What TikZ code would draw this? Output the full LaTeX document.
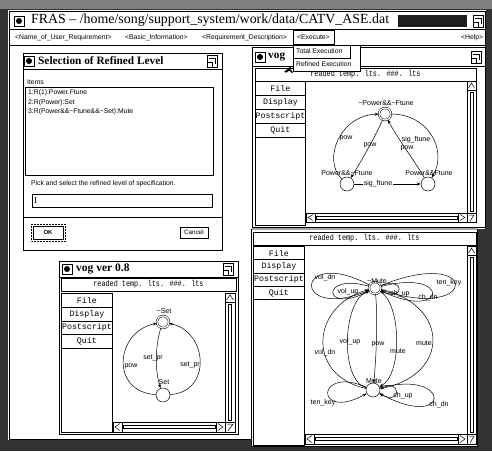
\documentclass[tikz,border=0pt]{standalone}
\usepackage{fontspec}
\usepackage{graphicx}
\setmainfont{Liberation Serif}
\newfontfamily\monof{Liberation Mono}
\newfontfamily\sansf{Liberation Sans}
\usetikzlibrary{arrows.meta}

\newcommand\rdicon[2]{\draw[line width=0.8pt,fill=white] (#1-5,#2-5) rectangle (#1+5,#2+5); \fill (#1,#2) circle (3pt);}
\newcommand\pnicon[2]{\draw[line width=0.8pt,fill=white] (#1-5,#2-6) rectangle (#1+5,#2+6);
  \draw[line width=0.6pt] (#1-5,#2+1) -- (#1,#2+1) -- (#1,#2+6);
  \draw[line width=0.6pt] (#1-3,#2-3) -- (#1+3,#2-3) -- (#1+3,#2+3);}
\newcommand\vsbar[4]{\draw[line width=0.6pt,fill=white] (#1,#2) rectangle (#3,#4);
  \draw[line width=0.6pt] (#1,#2+9) -- (#3,#2+9);
  \draw[line width=0.5pt] (#1+1.5,#2+7) -- ({(#1+#3)/2},#2+2) -- (#3-1.5,#2+7);
  \draw[line width=0.5pt] ({(#1+#3)/2-1.6},#2+11) rectangle ({(#1+#3)/2+1.6},#4-2);}
\newcommand\hsbar[4]{\draw[line width=0.6pt,fill=white] (#1,#2) rectangle (#3,#4);
  \draw[line width=0.6pt] (#1+9,#2) -- (#1+9,#4);
  \draw[line width=0.6pt] (#3-9,#2) -- (#3-9,#4);
  \draw[line width=0.5pt] (#1+7,#2+1.5) -- (#1+2,{(#2+#4)/2}) -- (#1+7,#4-1.5);
  \draw[line width=0.5pt] (#3-7,#2+1.5) -- (#3-2,{(#2+#4)/2}) -- (#3-7,#4-1.5);
  \draw[line width=0.5pt] (#1+10,{(#2+#4)/2-1.6}) rectangle (#3-10,{(#2+#4)/2+1.6});}
\newcommand\crnr[4]{\draw[line width=0.6pt,fill=white] (#1,#2) rectangle (#3,#4);
  \draw[line width=0.5pt] (#1+2,#2+2) -- (#3-2,#2+2) -- (#1+3,#4-1);}
\newcommand\btncol[5]{% prefix x1 y1 width height (unitless)
  \foreach \t [count=\i from 0] in {File,Display,Postscript,Quit}{
    \node[btn, minimum width=#4pt, minimum height=#5pt] (#1\i) at (#2,{#3+\i*#5}) {\t};}}

\begin{document}
\begin{tikzpicture}[x=1pt,y=-1pt,
  lbl/.style={font=\sansf\fontsize{7}{8}\selectfont, inner sep=0.5pt},
  mn/.style={anchor=west, font=\sansf\fontsize{6.8}{7.5}\selectfont, inner sep=0pt},
  dl/.style={anchor=west, font=\sansf\fontsize{6.8}{7.5}\selectfont, inner sep=0pt},
  wt/.style={anchor=west, font=\bfseries\fontsize{11.3}{13}\selectfont, inner sep=0pt},
  stt/.style={font=\monof\fontsize{8.5}{9}\selectfont, inner sep=0pt},
  btn/.style={draw, line width=0.9pt, anchor=north west, inner sep=0pt, font=\monof\fontsize{8.3}{9}\selectfont},
  st/.style={circle, draw, line width=0.5pt, minimum size=14pt, inner sep=0pt},
  dst/.style={circle, draw, line width=0.5pt, double, double distance=1.2pt, minimum size=12pt, inner sep=0pt},
  ed/.style={-{Stealth[length=4pt,width=3pt]}, line width=0.5pt},
  win/.style={draw, line width=1pt, fill=white}]
\useasboundingbox (0,0) rectangle (492,451);
% screen background
\fill[black!80] (0,0) rectangle (492,451);
\fill[black!50] (0,0) rectangle (492,9);
\fill[white] (8,10) rectangle (486,440);
\fill[black!80] (478,229) rectangle (492,451);
\draw[line width=0.8pt] (9,11) -- (485,11) -- (485,229);
\draw[line width=0.8pt] (9,11) -- (9,439) -- (251,439);
% title bar
\draw[line width=0.6pt] (9,29) -- (485,29);
\draw[line width=0.6pt] (9,45) -- (485,45);
\rdicon{19}{21}
\node[anchor=west, font=\fontsize{13.9}{16}\selectfont, inner sep=0pt] (ttl) at (31,20.5) {FRAS – /home/song/support\_system/work/data/CATV\_ASE.dat};
\fill[black!88] (398,15) rectangle (467,27);
\pnicon{478}{21}
% menu bar
\node[mn] (m1) at (15,37.5) {<Name\_of\_User\_Requirement>};
\node[mn] (m2) at (125,37.5) {<Basic\_Information>};
\node[mn] (m3) at (202,37.5) {<Requirement\_Description>};
\draw[line width=0.8pt] (293,30) rectangle (334,44);
\node[mn] (m4) at (297,37.5) {<Execute>};
\node[mn] (m5) at (461,37.5) {<Help>};

% ===== Selection dialog =====
\draw[win] (23,53) rectangle (222,250);
\draw[line width=0.8pt] (23,69) -- (222,69);
\rdicon{29}{61}
\node[wt] (dt) at (38,61) {Selection of Refined Level};
\pnicon{212}{61}
\node[dl] (it) at (27,82) {Items};
\draw[line width=0.6pt] (25,87) rectangle (213,175);
\node[dl] (i1) at (28,93) {1:R(1):Power.Ftune};
\node[dl] (i2) at (28,102.5) {2:R(Power):Set};
\node[dl] (i3) at (28,112) {3:R(Power\&\&\textasciitilde Ftune\&\&\textasciitilde Set):Mute};
\node[dl] (pk) at (31,184) {Pick and select the refined level of specification.};
\draw[line width=0.7pt] (32,194) rectangle (212,207);
\node[anchor=west, inner sep=0pt, font=\fontsize{9}{10}\selectfont] (cur) at (34,200.5) {I};
\draw[line width=0.8pt] (23,217) -- (222,217);
\draw[line width=0.5pt, densely dotted] (31,224) rectangle (65,241);
\draw[line width=0.7pt] (33,226) rectangle (63,239);
\node[font=\sansf\bfseries\fontsize{6}{7}\selectfont, inner sep=0pt] (ok) at (48,232.5) {OK};
\draw[line width=0.7pt] (180,227) rectangle (208,238);
\draw[line width=1pt] (181,238.5) -- (208.5,238.5) -- (208.5,228);
\node[font=\sansf\fontsize{6.3}{7}\selectfont, inner sep=0pt] (cn) at (194,232.5) {Cancel};

% ===== vog ver 0.8 (bottom left) =====
\draw[win] (59,261) rectangle (238,434);
\draw[line width=0.8pt] (59,277) -- (238,277);
\rdicon{67}{269}
\node[wt, font=\bfseries\fontsize{11.5}{13}\selectfont] (vt1) at (76,268.5) {vog ver 0.8};
\pnicon{228}{269}
\draw[line width=0.7pt] (61,278) rectangle (236,291);
\node[stt] (s1) at (148.5,284.5) {\scalebox{0.8}[1]{readed temp. lts. \#\#\#. lts}};
\draw[line width=0.7pt] (61,293) rectangle (112,432);
\btncol{bl}{61}{293}{51}{13.75}
\vsbar{225}{293}{235}{422}
\hsbar{113}{422}{225}{432}
\crnr{225}{422}{235}{432}
% graph
\node[dst] (d) at (163,322) {};
\node[lbl] (ld) at (164,311) {\textasciitilde Set};
\node[st] (e) at (163,395) {};
\node[lbl] (le) at (164,382) {Set};
\draw[ed] (e) .. controls (110,392) and (115,332) .. (d);
\draw[ed] (e) .. controls (212,392) and (208,332) .. (d);
\draw[ed] (d) .. controls (155,345) and (155,372) .. (e);
\node[lbl] (p1) at (131,366) {pow};
\node[lbl] (p2) at (153,358) {set\_pr};
\node[lbl] (p3) at (190,365) {set\_pr};

% ===== bottom right window =====
\draw[win] (251,229) rectangle (477,446);
\draw[line width=0.7pt] (253,232) rectangle (476,245);
\node[stt] (s3) at (364.5,238.5) {\scalebox{0.8}[1]{readed temp. lts. \#\#\#. lts}};
\draw[line width=0.7pt] (253,246) rectangle (304,445);
\btncol{br}{253}{246}{51}{13.25}
\vsbar{467}{246}{476}{434}
\hsbar{305}{434}{467}{444}
\crnr{467}{434}{476}{444}
% graph
\node[dst] (f) at (375,288) {};
\node[lbl] (lf) at (377,281) {\textasciitilde Mute};
\node[st] (g) at (373,390) {};
\node[lbl] (lg) at (374,381) {Mute};
% loops at ~Mute
\draw[ed] (f) .. controls (295,245) and (290,322) .. (f);
\draw[ed] (f) .. controls (320,272) and (322,315) .. (f);
\draw[ed] (f) .. controls (480,245) and (480,322) .. (f);
\draw[ed] (f) .. controls (452,268) and (447,322) .. (f);
\draw[ed] (f) .. controls (405,276) and (405,302) .. (f);
% edges between
\draw[ed] (g) .. controls (305,375) and (312,305) .. (f);
\draw[ed] (g) .. controls (340,380) and (342,302) .. (f);
\draw[ed] (f) .. controls (378,320) and (376,360) .. (g);
\draw[ed] (f) .. controls (402,305) and (402,375) .. (g);
\draw[ed] (f) .. controls (450,305) and (450,375) .. (g);
% loops at Mute
\draw[ed] (g) .. controls (315,365) and (315,422) .. (g);
\draw[ed] (g) .. controls (402,378) and (402,406) .. (g);
\draw[ed] (g) .. controls (452,368) and (452,432) .. (g);
\node[lbl] (q1) at (325,278) {vol\_dn};
\node[lbl] (q2) at (348,292) {vol\_up};
\node[lbl] (q3) at (400,294) {ch\_up};
\node[lbl] (q4) at (428,298) {ch\_dn};
\node[lbl] (q5) at (449,283) {ten\_key};
\node[lbl] (q6) at (325,353) {vol\_dn};
\node[lbl] (q7) at (350,342) {vol\_up};
\node[lbl] (q8) at (378,344) {pow};
\node[lbl] (q9) at (398,351) {mute};
\node[lbl] (q10) at (424,343) {mute};
\node[lbl] (q11) at (323,403) {ten\_key};
\node[lbl] (q12) at (403,396) {ch\_up};
\node[lbl] (q13) at (439,405) {ch\_dn};

% ===== top right window =====
\fill[black!35] (252,226) rectangle (477,230);
\draw[win] (252,47) rectangle (485,227);
\draw[line width=0.8pt] (252,66) -- (485,66);
\rdicon{260}{57}
\node[wt] (vt2) at (268,56.5) {vog};
\pnicon{476}{57}
\draw[line width=0.7pt] (255,68) rectangle (476,81);
\node[stt] (s2) at (365.5,74.5) {\scalebox{0.8}[1]{readed temp. lts. \#\#\#. lts}};
\draw[line width=0.7pt] (255,81) rectangle (305,225);
\btncol{bt}{255}{81}{50}{14}
\vsbar{467}{81}{476}{213}
\hsbar{306}{213}{467}{222}
\crnr{467}{213}{476}{222}
% graph
\node[dst] (a) at (385,114) {};
\node[lbl] (la) at (386,103) {\textasciitilde Power\&\&\textasciitilde Ftune};
\node[st] (b) at (347,184) {};
\node[lbl] (lb) at (347,173) {Power\&\&\textasciitilde Ftune};
\node[st] (c) at (428,184) {};
\node[lbl] (lc) at (429,173) {Power\&\&Ftune};
\draw[ed] (b) .. controls (322,160) and (340,115) .. (a);
\draw[ed] (a) .. controls (376,135) and (362,160) .. (b);
\draw[ed] (a) .. controls (428,114) and (448,150) .. (c);
\draw[ed] (c) .. controls (414,160) and (396,136) .. (a);
\draw[ed] (b) -- (c);
\node[lbl, fill=white] (lbc) at (378,184) {sig\_ftune};
\node[lbl] (r1) at (346,138) {pow};
\node[lbl] (r2) at (370,145) {pow};
\node[lbl] (r3) at (416,140) {sig\_ftune};
\node[lbl] (r4) at (407,148) {pow};

% ===== Execute drop-down =====
\draw[line width=0.8pt, fill=white] (293,45) rectangle (360,71);
\draw[line width=0.7pt] (293,58) -- (350,58) -- (350,45);
\node[mn] (x1) at (296,51.5) {Total Execution};
\node[mn] (x2) at (296,64.5) {Refined Execution};
% pointer
\fill (284,72) -- (291,66) -- (290.5,69.5) -- (293,72) -- (292,73) -- (289.5,70.5) -- (286.5,72.5) -- cycle;
\end{tikzpicture}
\end{document}
